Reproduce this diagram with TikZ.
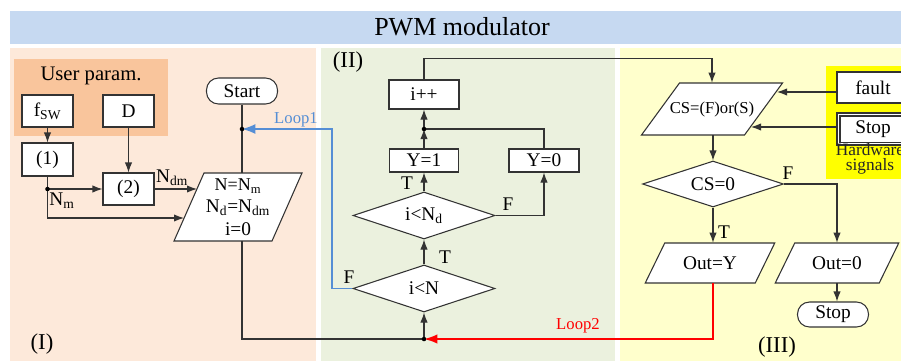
\documentclass[tikz,border=0pt]{standalone}
\usepackage{fontspec}
\setmainfont{Liberation Serif}
\usetikzlibrary{arrows.meta,shapes.geometric,calc}
\definecolor{titlebg}{HTML}{C6D9F1}
\definecolor{pone}{HTML}{FDE9DA}
\definecolor{ptwo}{HTML}{EBF1DE}
\definecolor{pthree}{HTML}{FFFFCC}
\definecolor{userbg}{HTML}{F9C59C}
\definecolor{hwyel}{HTML}{FFFF00}
\definecolor{loopblue}{HTML}{558ED5}
\definecolor{lncol}{HTML}{333333}
\newcommand\mypara[7]{%
  \draw[shp] ({#2-#4+#6},{#3-#5}) -- ({#2+#4+#6},{#3-#5}) -- ({#2+#4-#6},{#3+#5}) -- ({#2-#4-#6},{#3+#5}) -- cycle;
  \node[txt,minimum width={(2*#4)*0.75pt},minimum height={(2*#5)*0.75pt}] (#1) at (#2,#3) {#7};}
\begin{document}
\begin{tikzpicture}[x=0.75pt,y=-0.75pt,
  nfont/.style={font=\fontsize{14.5}{17}\selectfont},
  shp/.style={draw=lncol,line width=0.8pt,fill=white},
  txt/.style={nfont,inner sep=0pt,align=center},
  rbox/.style={shp,txt},
  term/.style={shp,txt,rounded corners=9pt},
  dia/.style={shp,txt,diamond,shape aspect=3},
  ln/.style={draw=lncol,line width=0.8pt},
  arr/.style={ln,-{Latex[length=7.5pt,width=5.5pt]}},
  barr/.style={draw=loopblue,line width=1.3pt,-{Latex[length=10pt,width=7.5pt]}},
  rarr/.style={draw=red,line width=1.2pt,-{Latex[length=10pt,width=7pt]}},
  lbl/.style={nfont,inner sep=0pt},
  dot/.style={fill=black}
]
\useasboundingbox (0,0) rectangle (901,361);
\clip (0,0) rectangle (901,361);
% backgrounds
\fill[titlebg] (10,11) rectangle (901,44);
\node[font=\fontsize{19.5}{22}\selectfont,inner sep=0pt] (title) at (462,27) {PWM modulator};
\fill[pone] (10,48) rectangle (316,361);
\fill[ptwo] (321,48) rectangle (615,361);
\fill[pthree] (620,48) rectangle (901,361);
\fill[userbg] (14,59) rectangle (168,136);
\fill[hwyel] (826,66) rectangle (901,179);
\node[font=\fontsize{15.5}{18}\selectfont,inner sep=0pt] (user) at (91,76) {User param.};
\node[font=\fontsize{17}{20}\selectfont,inner sep=0pt] (lI) at (42,344) {(I)};
\node[font=\fontsize{17}{20}\selectfont,inner sep=0pt] (lII) at (348,62) {(II)};
\node[font=\fontsize{17}{20}\selectfont,inner sep=0pt] (lIII) at (777,347) {(III)};
% group I
\node[rbox,minimum width=38.25pt,minimum height=24pt] (fsw) at (47.5,111) {f\textsubscript{SW}};
\node[rbox,minimum width=38.25pt,minimum height=24pt] (D) at (128.5,111) {D};
\node[rbox,minimum width=38.25pt,minimum height=24.75pt] (one) at (47.5,159.5) {(1)};
\node[rbox,minimum width=38.25pt,minimum height=24pt] (two) at (128.5,189) {(2)};
\node[term,minimum width=53.25pt,minimum height=19.5pt] (start) at (242,91) {Start};
\mypara{pinit}{238}{207}{49}{34}{15}{\fontsize{13.5}{18}\selectfont N=N\textsubscript{m}\\N\textsubscript{d}=N\textsubscript{dm}\\i=0}
% group II
\node[rbox,minimum width=52.5pt,minimum height=21.75pt] (ipp) at (424,94.5) {i++};
\node[rbox,minimum width=51.75pt,minimum height=17.25pt] (y1) at (424,160.5) {Y=1};
\node[rbox,minimum width=52.5pt,minimum height=17.25pt] (y0) at (544,160.5) {Y=0};
\node[dia,minimum width=106.5pt,minimum height=35.25pt] (ind) at (424,215.5) {i<N\textsubscript{d}};
\node[dia,minimum width=106.5pt,minimum height=35.25pt] (in) at (424,288.5) {i<N};
% group III
\mypara{cs}{712}{109}{51.5}{26}{19}{\fontsize{12.5}{14}\selectfont CS=(F)or(S)}
\node[dia,minimum width=105.75pt,minimum height=34.5pt] (cs0) at (713,184) {CS=0};
\mypara{outy}{710}{263}{55}{20}{9.75}{Out=Y}
\mypara{outz}{837}{263}{52}{20}{9.75}{Out=0}
\node[term,minimum width=53.25pt,minimum height=18.75pt] (stopt) at (833,314.5) {Stop};
\node[rbox,minimum width=54pt,minimum height=23.25pt] (fault) at (873,87.5) {fault};
\node[rbox,minimum width=54pt,minimum height=24pt] (hwstop) at (873,129) {Stop};
\draw[ln] ($(hwstop.north west)+(3.5,3.5)$) rectangle ($(hwstop.south east)+(-3.5,-3.5)$);
\node[font=\fontsize{13}{11.5}\selectfont,align=center,inner sep=0pt,text=black!85] (hw) at (870,159) {Hardware\\signals};
% coordinates
\coordinate (j1) at (47.5,189);
\coordinate (l1) at (242,129);
\coordinate (j2) at (424,339);
\coordinate (j3) at (424,129);
\coordinate (b1) at (332,129);
\coordinate (pin1) at (197,189);
\coordinate (pin2) at (184,218);
\coordinate (csin1) at (777,92);
\coordinate (csin2) at (751,127);
\path (cs.north) ++(0,-24) coordinate (topc);
% connectors group I
\draw[arr] (fsw) -- (one);
\draw[arr] (D) -- (two);
\draw[ln] (one.south) -- (j1);
\draw[arr] (j1) -- (two.west);
\draw[arr] (two.east) -- (pin1);
\draw[arr] (j1) |- (pin2);
\node[lbl] (ndm) at (172,178) {N\textsubscript{dm}};
\node[lbl] (nm) at (62,201) {N\textsubscript{m}};
\draw[ln] (start.south) -- (start.south |- pinit.north);
\draw[ln] (pinit.south -| start.south) |- (j2);
% group II
\draw[arr] (j2) -- (in.south);
\draw[arr] (in.north) -- (ind.south);
\draw[arr] (ind.north) -- (y1.south);
\draw[arr] (ind.east) -| (y0.south);
\draw[arr] (y1.north) -- (j3);
\draw[ln] (y0.north) |- (j3);
\draw[arr] (j3) -- (ipp.south);
\draw[arr] (ipp.north) |- (topc) -- (cs.north);
\node[lbl] (t1) at (407,183) {T};
\node[lbl] (f1) at (508,204) {F};
\node[lbl] (t2) at (445,257) {T};
\node[lbl] (f2) at (349,277) {F};
% loops
\draw[barr] (in.west) -| (b1) -- (l1);
\node[font=\fontsize{12.5}{14}\selectfont,text=loopblue,inner sep=0pt] (loop1) at (296,120) {Loop1};
\draw[rarr] (cs0.south |- outy.south) |- (j2);
\node[font=\fontsize{12.5}{14}\selectfont,text=red,inner sep=0pt] (loop2) at (578,326) {Loop2};
% group III
\draw[arr] (cs.south -| cs0.north) -- (cs0.north);
\draw[arr] (cs0.south) -- (cs0.south |- outy.north);
\draw[arr] (cs0.east) -| (outz.north);
\draw[arr] (outz.south) -- (outz.south |- stopt.north);
\draw[arr] (fault.west |- csin1) -- (csin1);
\draw[arr] (hwstop.west |- csin2) -- (csin2);
\node[lbl] (f3) at (788,173) {F};
\node[lbl] (t3) at (724,232) {T};
% dots
\fill[dot] (j1) circle[radius=1.7pt];
\fill[dot] (l1) circle[radius=1.7pt];
\fill[dot] (j2) circle[radius=1.7pt];
\fill[dot] (j3) circle[radius=1.7pt];
\end{tikzpicture}
\end{document}
